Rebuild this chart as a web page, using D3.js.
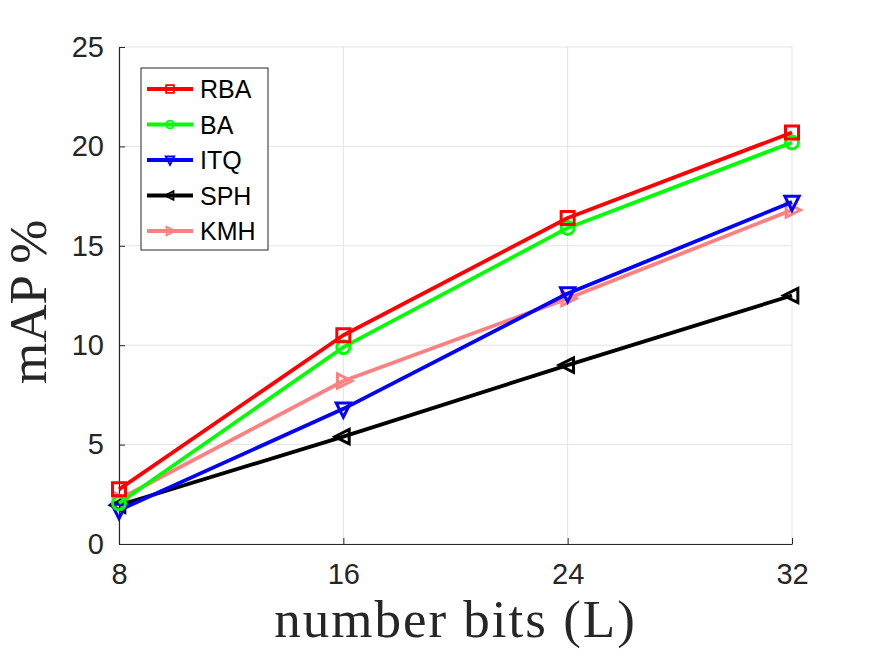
<!DOCTYPE html>
<html>
<head>
<meta charset="utf-8">
<script src="https://cdn.jsdelivr.net/npm/d3@7"></script>
<style>
  body { margin: 0; background: #fff; }
  svg { display: block; }
</style>
</head>
<body>
<svg id="chart"></svg>
<script>
// data
const bits = [8, 16, 24, 32];
const rba = [2.75, 10.5, 16.4, 20.7];
const ba = [2.05, 9.9, 15.9, 20.2];
const itq = [1.7, 6.8, 12.6, 17.2];
const sph = [1.95, 5.4, 9.0, 12.5];
const kmh = [2.25, 8.2, 12.35, 16.8];
const yTicks = [0, 5, 10, 15, 20, 25];

const series = [
  { name: 'RBA', values: rba, color: '#ff0000', marker: 'square' },
  { name: 'BA', values: ba, color: '#00ff00', marker: 'circle' },
  { name: 'ITQ', values: itq, color: '#0000ff', marker: 'down' },
  { name: 'SPH', values: sph, color: '#000000', marker: 'left' },
  { name: 'KMH', values: kmh, color: '#ff8080', marker: 'right' }
];

const width = 875;
const height = 657;
const margin = { left: 119, right: 83, top: 47, bottom: 113 };

const svg = d3.select('#chart').attr('width', width).attr('height', height);

const x = d3.scaleLinear().domain([8, 32]).range([margin.left, width - margin.right]);
const y = d3.scaleLinear().domain([0, 25]).range([height - margin.bottom, margin.top]);

// grid
svg.append('g')
  .selectAll('line')
  .data(bits)
  .enter()
  .append('line')
  .attr('x1', d => x(d)).attr('x2', d => x(d))
  .attr('y1', y(0)).attr('y2', y(25))
  .attr('stroke', '#e3e3e3').attr('stroke-width', 1);
svg.append('g')
  .selectAll('line')
  .data(yTicks)
  .enter()
  .append('line')
  .attr('x1', x(8)).attr('x2', x(32))
  .attr('y1', d => y(d)).attr('y2', d => y(d))
  .attr('stroke', '#e3e3e3').attr('stroke-width', 1);

// axes
const xAxis = d3.axisBottom(x).tickValues(bits).tickSize(-6).tickPadding(14).tickSizeOuter(0);
const yAxis = d3.axisLeft(y).tickValues(yTicks).tickSize(-6).tickPadding(15).tickSizeOuter(0);

const gx = svg.append('g')
  .attr('transform', 'translate(0,' + y(0) + ')')
  .call(xAxis);
const gy = svg.append('g')
  .attr('transform', 'translate(' + x(8) + ',0)')
  .call(yAxis);

[gx, gy].forEach(g => {
  g.select('.domain').attr('stroke', '#262626').attr('stroke-width', 1.2);
  g.selectAll('.tick line').attr('stroke', '#262626');
  g.selectAll('.tick text')
    .attr('fill', '#262626')
    .style('font-family', 'Liberation Sans, Arial, sans-serif')
    .style('font-size', '29px');
});
gx.selectAll('.tick text').attr('dy', '0.9em');

// axis titles
svg.append('text')
  .attr('x', (x(8) + x(32)) / 2)
  .attr('y', 637)
  .attr('text-anchor', 'middle')
  .style('font-family', 'Liberation Serif, serif')
  .style('font-size', '53px')
  .style('letter-spacing', '2px')
  .attr('fill', '#262626')
  .text('number bits (L)');

svg.append('text')
  .attr('transform', 'translate(46,384) rotate(-90)')
  .attr('text-anchor', 'start')
  .style('font-family', 'Liberation Serif, serif')
  .style('font-size', '53px')
  .attr('fill', '#262626')
  .text('mAP %');

// marker shapes
const ms = 6.5;
function markerPath(type) {
  switch (type) {
    case 'square':
      return `M${-ms},${-ms}H${ms}V${ms}H${-ms}Z`;
    case 'down':
      return `M${-ms * 1.1},${-ms * 0.9}H${ms * 1.1}L0,${ms * 1.3}Z`;
    case 'left':
      return `M${ms * 0.9},${-ms * 1.1}V${ms * 1.1}L${-ms * 1.3},0Z`;
    case 'right':
      return `M${-ms * 0.9},${-ms * 1.1}V${ms * 1.1}L${ms * 1.3},0Z`;
    default:
      return null;
  }
}

function drawMarker(g, type, color, cx, cy) {
  if (type === 'circle') {
    g.append('circle')
      .attr('cx', cx).attr('cy', cy).attr('r', ms)
      .attr('fill', 'none').attr('stroke', color).attr('stroke-width', 3);
  } else {
    g.append('path')
      .attr('d', markerPath(type))
      .attr('transform', 'translate(' + cx + ',' + cy + ')')
      .attr('fill', 'none').attr('stroke', color).attr('stroke-width', 3)
      .attr('stroke-linejoin', 'miter');
  }
}

const line = d3.line().x((d, i) => x(bits[i])).y(d => y(d));

// draw series (first one ends up on top)
series.slice().reverse().forEach(s => {
  const g = svg.append('g');
  g.append('path')
    .datum(s.values)
    .attr('d', line)
    .attr('fill', 'none')
    .attr('stroke', s.color)
    .attr('stroke-width', 3.8)
    .attr('stroke-linejoin', 'round');
  s.values.forEach((v, i) => drawMarker(g, s.marker, s.color, x(bits[i]), y(v)));
});

// legend
const legend = svg.append('g').attr('transform', 'translate(141,68)');
legend.append('rect')
  .attr('width', 127).attr('height', 182)
  .attr('fill', '#fff').attr('stroke', '#262626').attr('stroke-width', 1);

const small = 0.6;
series.forEach((s, i) => {
  const ly = 21 + i * 35.5;
  const row = legend.append('g');
  row.append('line')
    .attr('x1', 6).attr('x2', 52).attr('y1', ly).attr('y2', ly)
    .attr('stroke', s.color).attr('stroke-width', 3.8);
  const mg = row.append('g').attr('transform', 'translate(29,' + ly + ') scale(' + small + ')');
  drawMarker(mg, s.marker, s.color, 0, 0);
  row.append('text')
    .attr('x', 59).attr('y', ly)
    .attr('dy', '0.36em')
    .style('font-family', 'Liberation Sans, Arial, sans-serif')
    .style('font-size', '25px')
    .attr('fill', '#000')
    .text(s.name);
});
</script>
</body>
</html>
